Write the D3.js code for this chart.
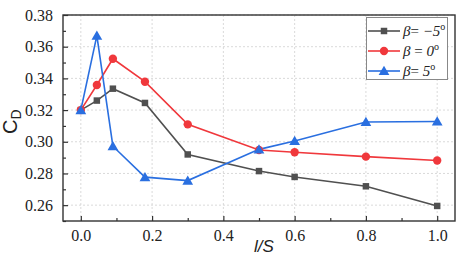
<!DOCTYPE html>
<html><head><meta charset="utf-8">
<script src="https://cdn.jsdelivr.net/npm/d3@7"></script>
<style>body{margin:0;background:#fff}</style>
</head><body>
<script>
const xValues = [0, 0.045, 0.09, 0.18, 0.3, 0.5, 0.6, 0.8, 1.0];
const betaMinus5 = [0.320, 0.326, 0.3335, 0.3245, 0.292, 0.2815, 0.2778, 0.2719, 0.2595];
const beta0 = [0.320, 0.3358, 0.3524, 0.3379, 0.311, 0.2948, 0.2934, 0.2906, 0.2882];
const beta5 = [0.320, 0.367, 0.2972, 0.2777, 0.2755, 0.2952, 0.3005, 0.3125, 0.3128];
const xTicks = [0, 0.2, 0.4, 0.6, 0.8, 1.0];
const yTicks = [0.26, 0.28, 0.30, 0.32, 0.34, 0.36, 0.38];
const seriesNames = ["−5", "0", "5"];

const W = 467, H = 272;
const m = {l: 63, t: 15, r: 12, b: 51};
const serif = '"Liberation Serif", "Times New Roman", serif';
const sans = '"Liberation Sans", Arial, sans-serif';
const svg = d3.select("body").append("svg").attr("width", W).attr("height", H);
const x = d3.scaleLinear().domain([-0.05, 1.05]).range([m.l, W - m.r]);
const y = d3.scaleLinear().domain([0.25, 0.38]).range([H - m.b, m.t]);

// grid
const g = svg.append("g");
g.selectAll(".gx").data(xTicks).join("line")
  .attr("x1", d => x(d)).attr("x2", d => x(d)).attr("y1", y(0.25)).attr("y2", y(0.38))
  .attr("stroke", "#d0d0d0").attr("stroke-width", 0.8).attr("stroke-dasharray", "2,2");
g.selectAll(".gy").data(yTicks).join("line")
  .attr("x1", x(-0.05)).attr("x2", x(1.05)).attr("y1", d => y(d)).attr("y2", d => y(d))
  .attr("stroke", "#d0d0d0").attr("stroke-width", 0.8).attr("stroke-dasharray", "2,2");

// axes
const xAxis = svg.append("g").attr("transform", `translate(0,${H - m.b})`)
  .call(d3.axisBottom(x).tickValues(xTicks).tickFormat(d3.format(".1f")).tickSizeInner(-5).tickSizeOuter(0).tickPadding(9));
const xMinor = svg.append("g").attr("transform", `translate(0,${H - m.b})`)
  .call(d3.axisBottom(x).tickValues([0.1, 0.3, 0.5, 0.7, 0.9]).tickFormat("").tickSizeInner(-3).tickSizeOuter(0));
const yAxis = svg.append("g").attr("transform", `translate(${m.l},0)`)
  .call(d3.axisLeft(y).tickValues(yTicks).tickFormat(d3.format(".2f")).tickSizeInner(-5).tickSizeOuter(0).tickPadding(10));
const yMinor = svg.append("g").attr("transform", `translate(${m.l},0)`)
  .call(d3.axisLeft(y).tickValues([0.25,0.27,0.29,0.31,0.33,0.35,0.37]).tickFormat("").tickSizeInner(-3).tickSizeOuter(0));
[xAxis, xMinor, yAxis, yMinor].forEach(a => {
  a.select(".domain").remove();
  a.selectAll("line").attr("stroke", "#333").attr("stroke-width", 1.2);
  a.selectAll("text").style("font-family", serif).attr("font-size", 16).attr("fill", "#222");
});
// frame
svg.append("rect").attr("x", x(-0.05)).attr("y", y(0.38))
  .attr("width", x(1.05) - x(-0.05)).attr("height", y(0.25) - y(0.38))
  .attr("fill", "none").attr("stroke", "#333").attr("stroke-width", 1.4);

// series
const colors = ["#505050", "#f0383c", "#2a6fe0"];
const datasets = [betaMinus5, beta0, beta5];
const symbols = [d3.symbolSquare, d3.symbolCircle, d3.symbolTriangle];
const sizes = [42, 55, 50];
const line = d3.line().x((d, i) => x(xValues[i])).y(d => y(d));
datasets.forEach((ds, k) => {
  svg.append("path").datum(ds).attr("d", line).attr("fill", "none")
    .attr("stroke", colors[k]).attr("stroke-width", 1.6);
});
datasets.forEach((ds, k) => {
  svg.selectAll(".m" + k).data(ds).join("path")
    .attr("transform", (d, i) => `translate(${x(xValues[i])},${y(d) + (k === 2 ? 1 : 0)})`)
    .attr("d", d3.symbol().type(symbols[k]).size(sizes[k]))
    .attr("fill", colors[k]);
});

// legend
const lg = svg.append("g");
lg.append("rect").attr("x", 366.5).attr("y", 17.5).attr("width", 81).attr("height", 62)
  .attr("fill", "#fff").attr("stroke", "#888").attr("stroke-width", 1);
seriesNames.forEach((nm, k) => {
  const yy = 31 + k * 20;
  lg.append("line").attr("x1", 368).attr("x2", 400).attr("y1", yy).attr("y2", yy)
    .attr("stroke", colors[k]).attr("stroke-width", 1.6);
  lg.append("path").attr("transform", `translate(384,${yy + (k === 2 ? 1 : 0)})`)
    .attr("d", d3.symbol().type(symbols[k]).size(sizes[k])).attr("fill", colors[k]);
  const t = lg.append("text").attr("x", 403).attr("y", yy + 5)
    .style("font-family", serif).attr("font-size", 15).attr("fill", "#222");
  t.append("tspan").attr("font-style", "italic").text("β");
  t.append("tspan").text(k === 1 ? " = " : "= ");
  t.append("tspan").attr("font-style", "italic").text(nm);
  t.append("tspan").attr("font-size", 10).attr("dy", -6).text("o");
});

// axis labels
svg.append("text").attr("transform", "translate(17,134) rotate(-90)").style("font-family", sans)
  .attr("font-size", 20).attr("fill", "#222")
  .call(t => { t.append("tspan").text("C"); t.append("tspan").attr("font-size", 14).attr("dy", 4).text("D"); });
svg.append("text").attr("x", 264).attr("y", 252).attr("text-anchor", "middle").style("font-family", sans)
  .attr("font-style", "italic").attr("font-size", 17).attr("fill", "#222").text("l/S");
</script>
</body></html>
